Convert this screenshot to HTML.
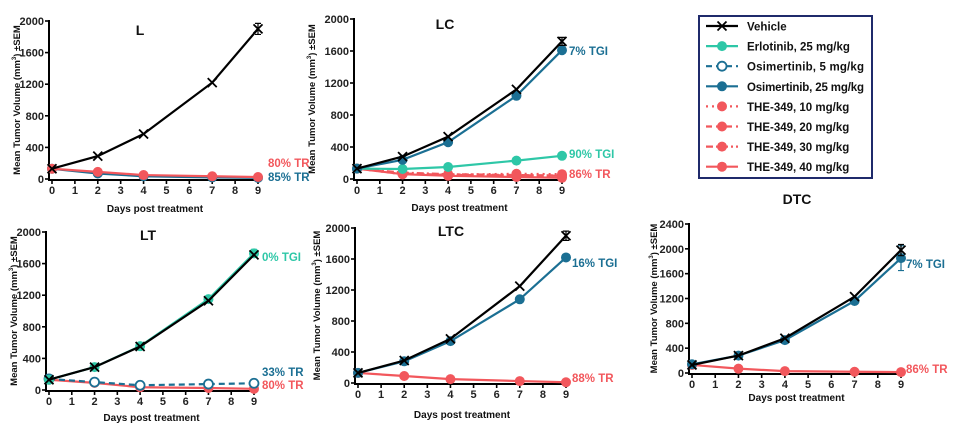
<!DOCTYPE html>
<html><head><meta charset="utf-8"><style>
body{margin:0;background:#fff;width:955px;height:433px;overflow:hidden}
svg{font-family:"Liberation Sans",Arial,sans-serif}
</style></head><body>
<svg id="c" width="955" height="433" viewBox="0 0 955 433"></svg>
<script>
const days=[0,2,4,7,9];
const xTicks=[0,1,2,3,4,5,6,7,8,9];
const yTicks2000=[0,400,800,1200,1600,2000];
const yTicks2400=[0,400,800,1200,1600,2000,2400];
// L panel
const L_vehicle=[130,290,570,1220,1900];
const L_osi25=[130,70,35,20,15];
const L_the40=[130,90,50,35,25];
// LC panel
const LC_vehicle=[130,280,530,1120,1720];
const LC_osi25=[130,240,460,1040,1610];
const LC_erl=[130,125,150,230,290];
const LC_the10=[130,60,55,65,60];
const LC_the20=[130,70,50,45,45];
const LC_the30=[130,80,60,50,40];
const LC_the40=[130,60,40,25,15];
// LT panel
const LT_vehicle=[130,290,550,1130,1710];
const LT_erl=[130,290,555,1150,1730];
const LT_osi5=[140,100,60,75,85];
const LT_the40=[130,90,35,25,15];
// LTC panel
const LTC_vehicle=[130,290,570,1250,1900];
const LTC_osi25=[130,280,540,1080,1620];
const LTC_the40=[130,90,50,25,10];
// DTC panel
const DTC_vehicle=[130,280,560,1230,1980];
const DTC_osi25=[140,280,530,1160,1850];
const DTC_the40=[130,70,30,20,15];
const legendLabels=["Vehicle","Erlotinib, 25 mg/kg","Osimertinib, 5 mg/kg","Osimertinib, 25 mg/kg","THE-349, 10 mg/kg","THE-349, 20 mg/kg","THE-349, 30 mg/kg","THE-349, 40 mg/kg"];

const BLK='#000',TEAL='#2ec7a7',BLUE='#1b6f93',RED='#f2575c';
const NS='http://www.w3.org/2000/svg';
const svg=document.getElementById('c');
function mk(tag,attrs,parent,text){const e=document.createElementNS(NS,tag);for(const k in attrs)e.setAttribute(k,attrs[k]);if(text!==undefined)e.textContent=text;(parent||svg).appendChild(e);return e;}

const styles={
 vehicle:{c:BLK,dash:null,m:'x'},
 erl:{c:TEAL,dash:null,m:'dot'},
 osi5:{c:BLUE,dash:'6,4',m:'open'},
 osi25:{c:BLUE,dash:null,m:'dot'},
 the10:{c:RED,dash:'2,4',m:'dot'},
 the20:{c:RED,dash:'6,4',m:'dot'},
 the30:{c:RED,dash:'7,3,2,3',m:'dot'},
 the40:{c:RED,dash:null,m:'dot'}
};
function marker(g,kind,c,x,y){
 if(kind==='x'){
  const p=mk('path',{d:`M${x-4.5},${y-4.5}L${x+4.5},${y+4.5}M${x-4.5},${y+4.5}L${x+4.5},${y-4.5}`,stroke:c,'stroke-width':1.8,fill:'none'},g);
  
 }else{
  const p=mk('circle',{cx:x,cy:y,r:kind==='open'?4.5:5,fill:kind==='open'?'#fff':c,stroke:c,'stroke-width':kind==='open'?1.8:0},g);
  
 }
}
function panel(o){
 const g=mk('g',{});
 
 
 const X=v=>o.x0+(o.x9-o.x0)*v/9;
 const Y=v=>o.yb+(o.yt-o.yb)*v/o.ymax;
 const ax=o.x0-3;
 const ya=mk('line',{x1:ax,y1:Y(o.ymax)-1,x2:ax,y2:o.yb+1,stroke:'#000','stroke-width':2},g);
 
 const xa=mk('line',{x1:ax-1,y1:o.yb+1,x2:X(9)+2,y2:o.yb+1,stroke:'#000','stroke-width':2},g);
 
 o.yticks.forEach(v=>{
  mk('line',{x1:ax-4,y1:Y(v),x2:ax,y2:Y(v),stroke:'#000','stroke-width':1.6},g);
  const t=mk('text',{x:ax-5,y:Y(v)+4,'text-anchor':'end','font-size':11,'font-weight':'bold',fill:'#222'},g,v);
  
 });
 xTicks.forEach(v=>{
  mk('line',{x1:X(v),y1:o.yb+1,x2:X(v),y2:o.yb+5,stroke:'#000','stroke-width':1.6},g);
  const t=mk('text',{x:X(v),y:o.yb+15,'text-anchor':'middle','font-size':11,'font-weight':'bold',fill:'#222'},g,v);
  
 });
 const xl=mk('text',{x:(o.x0+o.x9)/2,y:o.xly,'text-anchor':'middle','font-size':10,'font-weight':'bold',fill:'#111'},g,'Days post treatment');
 
 const cy=(o.yt+o.yb)/2;
 const yl=mk('text',{x:0,y:0,transform:`translate(${o.ylx},${cy}) rotate(-90)`,'text-anchor':'middle','font-size':9.5,'font-weight':'bold',fill:'#111'},g);
 yl.innerHTML='Mean Tumor Volume (mm<tspan dy="-4" font-size="6">3</tspan><tspan dy="4">) ±SEM</tspan>';
 
 const tt=mk('text',{x:o.tx,y:o.ty,'text-anchor':'middle','font-size':14,'font-weight':'bold',fill:'#111'},g,o.title);
 
 o.series.forEach(s=>{
  const st=styles[s.k];
  const pts=days.map((d,i)=>[X(d),Y(s.v[i])]);
  const pl=mk('polyline',{points:pts.map(p=>p.join(',')).join(' '),fill:'none',stroke:st.c,'stroke-width':2.2},g);
  if(st.dash)pl.setAttribute('stroke-dasharray',st.dash);
  
  if(s.err){const p=pts[pts.length-1];const e=Math.abs(Y(0)-Y(s.err));
   mk('path',{d:`M${p[0]},${p[1]-e}V${p[1]+e}M${p[0]-3},${p[1]-e}H${p[0]+3}M${p[0]-3},${p[1]+e}H${p[0]+3}`,stroke:st.c,'stroke-width':1.2,fill:'none'},g);}
  pts.forEach(p=>marker(g,st.m,st.c,p[0],p[1]));
 });
 o.notes.forEach(n=>{
  const t=mk('text',{x:n.x,y:n.y,'font-size':11.5,'font-weight':'bold',fill:n.c},g,n.t);
  
 });
}
panel({title:'L',x0:52,x9:258,yt:21,yb:179,ymax:2000,yticks:yTicks2000,ylx:20,xly:212,tx:140,ty:35,
 series:[{k:'osi25',v:L_osi25},{k:'the40',v:L_the40},{k:'vehicle',v:L_vehicle,err:70}],
 notes:[{x:268,y:167,t:'80% TR',c:RED},{x:268,y:181,t:'85% TR',c:BLUE}]});
panel({title:'LC',x0:357,x9:562,yt:19,yb:179,ymax:2000,yticks:yTicks2000,ylx:315,xly:211,tx:445,ty:29,
 series:[{k:'the10',v:LC_the10},{k:'the20',v:LC_the20},{k:'the30',v:LC_the30},{k:'the40',v:LC_the40},{k:'erl',v:LC_erl},{k:'osi25',v:LC_osi25},{k:'vehicle',v:LC_vehicle,err:50}],
 notes:[{x:569,y:55,t:'7% TGI',c:BLUE},{x:569,y:158,t:'90% TGI',c:TEAL},{x:569,y:178,t:'86% TR',c:RED}]});
panel({title:'LT',x0:49,x9:254,yt:232,yb:390,ymax:2000,yticks:yTicks2000,ylx:17,xly:421,tx:148,ty:240,
 series:[{k:'the40',v:LT_the40},{k:'osi5',v:LT_osi5},{k:'erl',v:LT_erl,err:50},{k:'vehicle',v:LT_vehicle}],
 notes:[{x:262,y:261,t:'0% TGI',c:TEAL},{x:262,y:376,t:'33% TR',c:BLUE},{x:262,y:389,t:'80% TR',c:RED}]});
panel({title:'LTC',x0:358,x9:566,yt:228,yb:383,ymax:2000,yticks:yTicks2000,ylx:320,xly:418,tx:451,ty:236,
 series:[{k:'the40',v:LTC_the40},{k:'osi25',v:LTC_osi25,err:40},{k:'vehicle',v:LTC_vehicle,err:60}],
 notes:[{x:572,y:267,t:'16% TGI',c:BLUE},{x:572,y:382,t:'88% TR',c:RED}]});
panel({title:'DTC',x0:692,x9:901,yt:224,yb:373,ymax:2400,yticks:yTicks2400,ylx:657,xly:401,tx:797,ty:204,
 series:[{k:'the40',v:DTC_the40},{k:'osi25',v:DTC_osi25,err:200},{k:'vehicle',v:DTC_vehicle,err:90}],
 notes:[{x:906,y:268,t:'7% TGI',c:BLUE},{x:906,y:373,t:'86% TR',c:RED}]});

const lg=mk('g',{});

mk('rect',{x:699,y:16,width:173,height:162,fill:'#fff',stroke:'#1f2a6b','stroke-width':2},lg);
const keys=['vehicle','erl','osi5','osi25','the10','the20','the30','the40'];
legendLabels.forEach((lab,i)=>{
 const y=26+i*20.1;const st=styles[keys[i]];
 const e=mk('g',{},lg);
 
 const l=mk('line',{x1:706,y1:y,x2:738,y2:y,stroke:st.c,'stroke-width':2.2},e);
 if(st.dash)l.setAttribute('stroke-dasharray',st.dash);
 marker(e,st.m,st.c,722,y);
 mk('text',{x:747,y:y+4.5,'font-size':11.5,'font-weight':'bold',fill:'#111',textLength:lab.length>19?117:undefined},e,lab);
});
document.querySelectorAll('text[textLength="undefined"]').forEach(t=>t.removeAttribute('textLength'));
</script>
</body></html>
